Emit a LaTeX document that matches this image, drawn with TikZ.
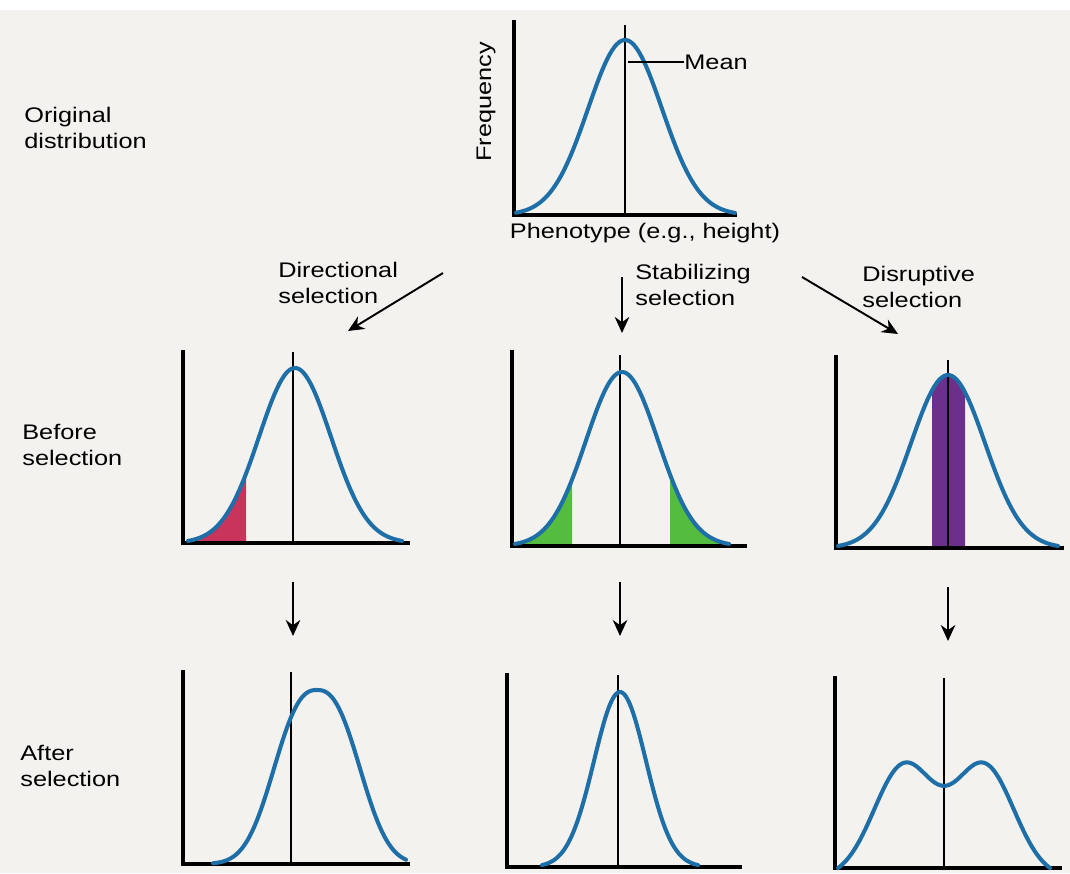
\documentclass[tikz,border=0pt]{standalone}
\usepackage{fontspec}
\setmainfont[FakeStretch=1.2]{Liberation Sans}
\usetikzlibrary{arrows.meta,positioning}

\definecolor{pagebg}{RGB}{243,242,238}
\definecolor{curveblue}{RGB}{30,110,168}
\definecolor{tailred}{RGB}{200,52,92}
\definecolor{tailgreen}{RGB}{84,188,62}
\definecolor{bandpurple}{RGB}{108,48,140}

\begin{document}
\begin{tikzpicture}[x=0.2mm,y=-0.2mm,
  lbl/.style={align=left,font=\fontsize{12}{14.5}\selectfont,inner sep=0pt},
  axis/.style={line width=1.9pt,line cap=rect},
  meanln/.style={line width=0.8pt},
  curve/.style={draw=curveblue,line width=2.3pt,line cap=round},
  pointer/.style={-{Stealth[length=3.2mm,width=2.9mm]},line width=1.1pt}]
\useasboundingbox (0,0) rectangle (1070,873);
\fill[pagebg] (0,10) rectangle (1070,873);

% original distribution
\node[lbl,anchor=west] (orig) at (24,128) {Original\\distribution};
\node[lbl,rotate=90] (freq) at (486,102) {Frequency};
\node[lbl] (pheno) at (645,233) {Phenotype (e.g., height)};
\node[lbl,anchor=west] (mean) at (684,62) {Mean};
\draw[axis] (514,22) -- (514,215) -- (735,215);
\draw[meanln] (625,25) -- (625,215);
\draw[curve] plot[domain=516:735,samples=90] (\x,{215-175*exp(-0.5*((\x-625)/37)^2)});
\coordinate (meanpt) at (628,62);
\draw[meanln] (meanpt) -- (mean.west);

% kinds of selection
\node[lbl,anchor=west] (dirsel) at (278,283) {Directional\\selection};
\node[lbl,anchor=west] (stabsel) at (635,285) {Stabilizing\\selection};
\node[lbl,anchor=west] (disrsel) at (862,287) {Disruptive\\selection};
\coordinate (dirfrom) at (443,273);
\coordinate (dirto) at (348,331);
\coordinate (stabfrom) at (622,277);
\coordinate (stabto) at (622,333);
\coordinate (disrfrom) at (802,277);
\coordinate (disrto) at (898,334);
\draw[pointer] (dirfrom) -- (dirto);
\draw[pointer] (stabfrom) -- (stabto);
\draw[pointer] (disrfrom) -- (disrto);

% before selection
\node[lbl,anchor=west] (before) at (22,445) {Before\\selection};
\fill[tailred] (190,543) -- plot[domain=190:246,samples=30] (\x,{543-175*exp(-0.5*((\x-295)/36)^2)}) -- (246,543) -- cycle;
\draw[axis] (183,352) -- (183,543) -- (408,543);
\draw[meanln] (293,352) -- (293,543);
\draw[curve] plot[domain=188:402,samples=90] (\x,{543-175*exp(-0.5*((\x-295)/36)^2)});

\fill[tailgreen] (516,546) -- plot[domain=516:572,samples=30] (\x,{546-174*exp(-0.5*((\x-622)/36)^2)}) -- (572,546) -- cycle;
\fill[tailgreen] (670,546) -- plot[domain=670:728,samples=30] (\x,{546-174*exp(-0.5*((\x-622)/36)^2)}) -- (728,546) -- cycle;
\draw[axis] (512,352) -- (512,546) -- (745,546);
\draw[meanln] (620,355) -- (620,546);
\draw[curve] plot[domain=515:729,samples=90] (\x,{546-174*exp(-0.5*((\x-622)/36)^2)});

\fill[bandpurple] (932,548) -- plot[domain=932:965,samples=20] (\x,{548-173*exp(-0.5*((\x-948)/37)^2)}) -- (965,548) -- cycle;
\draw[axis] (836,357) -- (836,548) -- (1062,548);
\draw[meanln] (948,360) -- (948,548);
\draw[curve] plot[domain=838:1058,samples=90] (\x,{548-173*exp(-0.5*((\x-948)/37)^2)});

% arrows down
\coordinate (afrom) at (293,582);
\coordinate (ato) at (293,636);
\coordinate (bfrom) at (620,582);
\coordinate (bto) at (620,636);
\coordinate (cfrom) at (948,587);
\coordinate (cto) at (948,641);
\draw[pointer] (afrom) -- (ato);
\draw[pointer] (bfrom) -- (bto);
\draw[pointer] (cfrom) -- (cto);

% after selection
\node[lbl,anchor=west] (after) at (20,766) {After\\selection};
\draw[axis] (183,672) -- (183,864) -- (408,864);
\draw[meanln] (291,672) -- (291,864);
\draw[curve] plot[domain=213:406,samples=90] (\x,{864-174*exp(-0.5*(abs((\x-317)/40))^2.5)});

\draw[axis] (507,675) -- (507,867) -- (740,867);
\draw[meanln] (618,675) -- (618,867);
\draw[curve] plot[domain=542:698,samples=90] (\x,{867-175*exp(-0.5*((\x-620)/26)^2)});

\draw[axis] (835,678) -- (835,868) -- (1060,868);
\draw[meanln] (944,678) -- (944,868);
\draw[curve] plot[domain=838:1050,samples=100] (\x,{868-112*(exp(-0.5*((\x-904)/30)^2)+exp(-0.5*((\x-984)/30)^2)-0.089)});
\end{tikzpicture}
\end{document}
